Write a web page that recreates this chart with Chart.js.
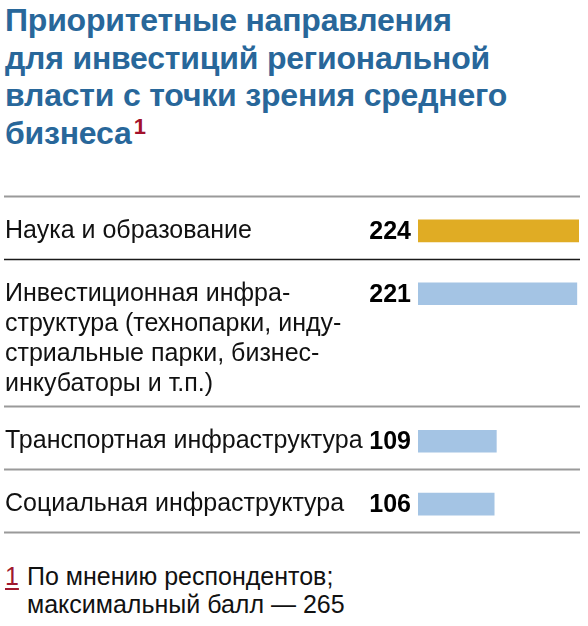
<!DOCTYPE html>
<html><head><meta charset="utf-8">
<script src="https://cdn.jsdelivr.net/npm/chart.js@4"></script>
<style>
html,body{margin:0;padding:0;background:#fff;width:588px;height:626px;overflow:hidden;font-family:"Liberation Sans",Arial,sans-serif;}
#title{position:absolute;left:5px;top:2px;margin:0;font-size:32px;line-height:37.5px;font-weight:bold;color:#28679a;letter-spacing:-0.2px;}
#title sup{color:#a3112b;font-size:22px;position:relative;top:2px;vertical-align:top;line-height:20px;margin-left:2px;}
#wrap{position:absolute;left:0;top:180px;width:588px;height:370px;}
#foot{position:absolute;left:5px;top:562px;font-size:25px;line-height:28px;color:#111;}
#foot .n{color:#a0182e;text-decoration:underline;text-underline-offset:3px;display:inline-block;width:22px;}
#foot .l2{padding-left:22px;}
</style></head>
<body>
<h1 id="title">Приоритетные направления<br>для инвестиций региональной<br>власти с точки зрения среднего<br>бизнеса<sup>1</sup></h1>
<div id="wrap"><canvas id="c"></canvas></div>
<div id="foot"><span class="n">1</span>По мнению респондентов;<br><span class="l2">максимальный балл — 265</span></div>
<script>
const categories = [
  ["Наука и образование"],
  ["Инвестиционная инфра-","структура (технопарки, инду-","стриальные парки, бизнес-","инкубаторы и т.п.)"],
  ["Транспортная инфраструктура"],
  ["Социальная инфраструктура"]
];
const values = [224, 221, 109, 106];
const barColors = ["#e0ac24", "#a4c4e4", "#a4c4e4", "#a4c4e4"];

// layout in "row units" computed from number of label lines
const ROW_BASE = 63, EXTRA_LINE = 28.3, FIRST_OFFSET = 35, LINE_PITCH = 30.3;
const rowTops = [];
let acc = 0;
categories.forEach(c => { rowTops.push(acc); acc += ROW_BASE + (c.length - 1) * EXTRA_LINE; });
const totalUnits = acc;
const barPos = rowTops.map(t => t + FIRST_OFFSET);
const labelPos = categories.map((c, i) => rowTops[i] + FIRST_OFFSET + (c.length - 1) * LINE_PITCH / 2);
const sepPos = rowTops.concat([totalUnits]);

const sepPlugin = {
  id: 'seps',
  beforeDraw(chart) {
    const ctx = chart.ctx, ys = chart.scales.y;
    ctx.save();
    sepPos.forEach((v, i) => {
      const y = Math.round(ys.getPixelForValue(v)) + 0.5;
      ctx.strokeStyle = i === 1 ? '#1a1a1a' : '#9a9a9a';
      ctx.lineWidth = i === 1 ? 1.5 : 2;
      ctx.beginPath(); ctx.moveTo(4, y); ctx.lineTo(580, y); ctx.stroke();
    });
    ctx.restore();
  }
};
const valuePlugin = {
  id: 'vals',
  afterDatasetsDraw(chart) {
    const ctx = chart.ctx;
    const meta = chart.getDatasetMeta(0);
    ctx.save();
    ctx.font = 'bold 25px "Liberation Sans", Arial, sans-serif';
    ctx.fillStyle = '#000';
    ctx.textAlign = 'right';
    ctx.textBaseline = 'middle';
    meta.data.forEach((bar, i) => {
      ctx.fillText(String(values[i]), bar.base - 7, bar.y + 1);
    });
    ctx.restore();
  }
};

new Chart(document.getElementById('c'), {
  type: 'bar',
  data: {
    datasets: [{
      data: values.map((v, i) => ({x: v, y: barPos[i]})),
      backgroundColor: barColors,
      barThickness: 22,
      borderWidth: 0
    }]
  },
  options: {
    indexAxis: 'y',
    responsive: true,
    maintainAspectRatio: false,
    animation: false,
    layout: {padding: {left: 5, right: 9, top: 16, bottom: 18}},
    plugins: {legend: {display: false}, tooltip: {enabled: false}},
    scales: {
      x: {type: 'linear', min: 0, max: 224, display: false},
      y: {
        type: 'linear', reverse: true, min: 0, max: totalUnits, offset: false,
        grid: {display: false, offset: false}, border: {display: false},
        afterBuildTicks(scale) { scale.ticks = labelPos.map(v => ({value: v})); },
        afterFit(scale) {
          scale.width = 413;
          scale.paddingTop = 0; scale.paddingBottom = 0;
        },
        ticks: {
          autoSkip: false, crossAlign: 'far', padding: 0,
          color: '#111',
          font: {family: '"Liberation Sans", Arial, sans-serif', size: 25, lineHeight: LINE_PITCH / 25},
          callback: (v, i) => categories[i]
        }
      }
    }
  },
  plugins: [sepPlugin, valuePlugin]
});
</script>
</body></html>
